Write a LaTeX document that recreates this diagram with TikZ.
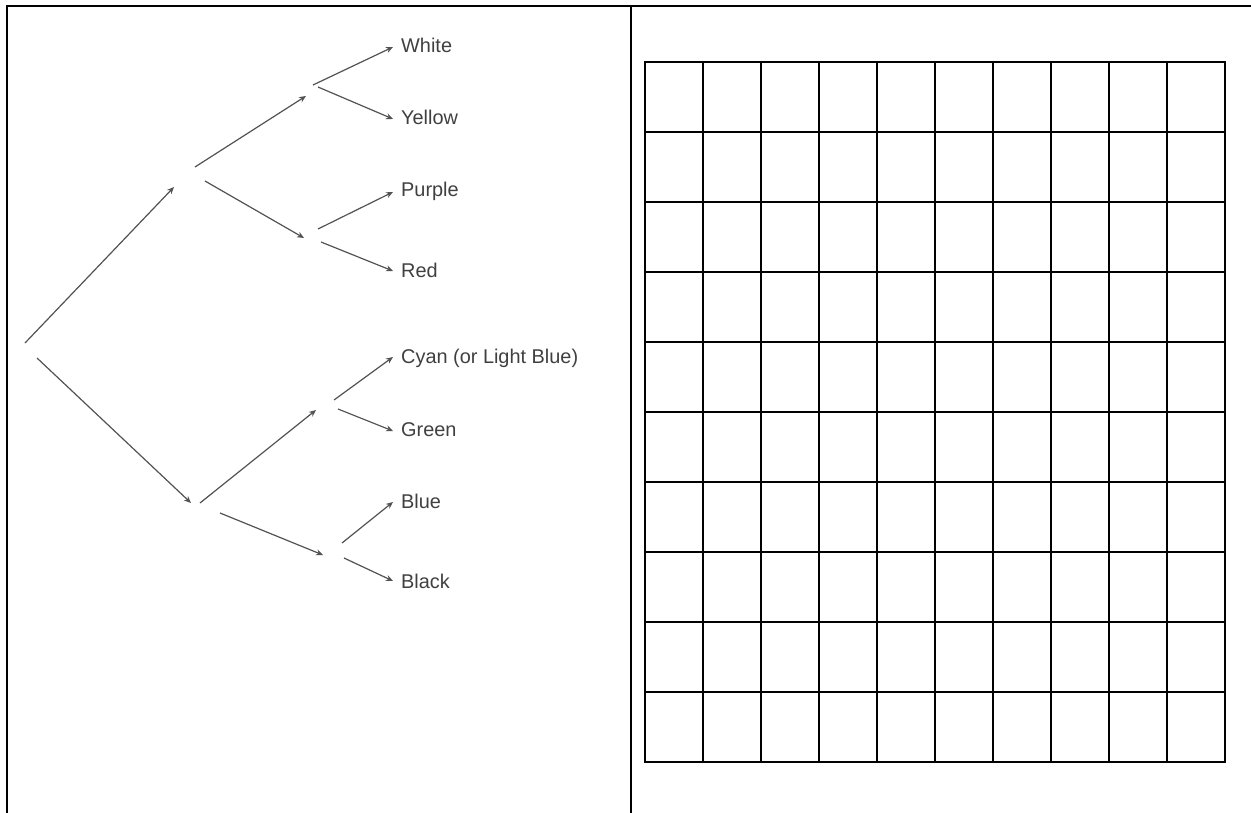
\documentclass[tikz,border=0pt]{standalone}
\usepackage{fontspec}
\setmainfont{Liberation Sans}
\usetikzlibrary{arrows.meta}
\begin{document}
\begin{tikzpicture}[x=1pt,y=-1pt,
  frame/.style={line width=2pt, draw=black},
  cell/.style={line width=2pt, draw=black},
  branch/.style={draw=black!68, line width=1.2pt, -{Stealth[length=7pt,width=6pt]}},
  leaf/.style={anchor=base west, inner sep=0pt, text=black!75, font=\fontsize{19.9}{24}\selectfont}]
\useasboundingbox (0,0) rectangle (1251,813);
% frame
\draw[frame, line join=miter] (7,813) -- (7,6) -- (1251,6);
\draw[frame] (631,6) -- (631,813);
% grid
\foreach \i in {0,...,10} {
  \draw[cell] ({645+58*\i},62) -- ({645+58*\i},762);
  \draw[cell] (645,{62+70*\i}) -- (1225,{62+70*\i});
}
\draw[cell, line join=miter] (645,62) rectangle (1225,762);
% tree coordinates
\coordinate (r1s) at (25,343);  \coordinate (r1e) at (174,187);
\coordinate (r2s) at (37,358);  \coordinate (r2e) at (191,503);
\coordinate (a1s) at (195,167); \coordinate (a1e) at (306,96);
\coordinate (a2s) at (205,181); \coordinate (a2e) at (304,238);
\coordinate (b1s) at (200,503); \coordinate (b1e) at (316,410);
\coordinate (b2s) at (220,513); \coordinate (b2e) at (323,555);
\coordinate (w1) at (313,85);  \coordinate (w2) at (393,47);
\coordinate (y1) at (318,87);  \coordinate (y2) at (393,119);
\coordinate (p1) at (318,229); \coordinate (p2) at (393,192);
\coordinate (d1) at (321,242); \coordinate (d2) at (393,271);
\coordinate (c1) at (334,400); \coordinate (c2) at (393,357);
\coordinate (g1) at (338,409); \coordinate (g2) at (393,431);
\coordinate (u1) at (342,543); \coordinate (u2) at (393,502);
\coordinate (k1) at (344,558); \coordinate (k2) at (393,581);
% labels
\node[leaf] (white)  at (401,53)  {White};
\node[leaf] (yellow) at (401,125) {Yellow};
\node[leaf] (purple) at (401,197) {Purple};
\node[leaf] (red)    at (401,277) {Red};
\node[leaf] (cyan)   at (401,363) {Cyan (or Light Blue)};
\node[leaf] (green)  at (401,436) {Green};
\node[leaf] (blue)   at (401,508) {Blue};
\node[leaf] (black)  at (401,588) {Black};
% arrows
\draw[branch] (r1s) -- (r1e);
\draw[branch] (r2s) -- (r2e);
\draw[branch] (a1s) -- (a1e);
\draw[branch] (a2s) -- (a2e);
\draw[branch] (b1s) -- (b1e);
\draw[branch] (b2s) -- (b2e);
\draw[branch] (w1) -- (w2);
\draw[branch] (y1) -- (y2);
\draw[branch] (p1) -- (p2);
\draw[branch] (d1) -- (d2);
\draw[branch] (c1) -- (c2);
\draw[branch] (g1) -- (g2);
\draw[branch] (u1) -- (u2);
\draw[branch] (k1) -- (k2);
\end{tikzpicture}
\end{document}
